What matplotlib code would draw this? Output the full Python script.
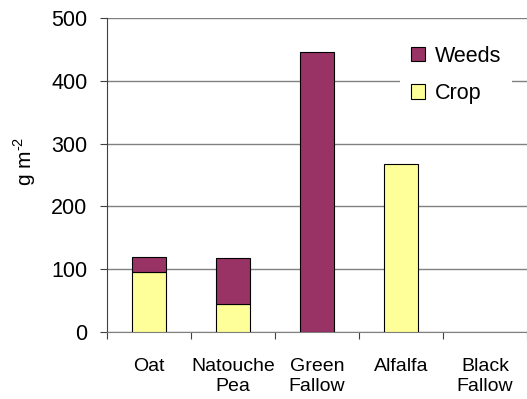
import numpy as np
import matplotlib
matplotlib.use('Agg')
import matplotlib.pyplot as plt

plt.rcParams['font.family'] = ['Liberation Sans', 'DejaVu Sans']
plt.rcParams['mathtext.fontset'] = 'custom'
plt.rcParams['mathtext.rm'] = 'Liberation Sans'

categories = ['Oat', 'Natouche\nPea', 'Green\nFallow', 'Alfalfa', 'Black\nFallow']
crop = [95, 45, 0, 268, 0]
weeds = [25, 73, 446, 0, 0]

fig = plt.figure(figsize=(5.27, 3.99), dpi=100)
ax = fig.add_axes([107 / 527, 1 - 332 / 399, 420 / 527, 314 / 399])

x = np.arange(len(categories))
w = 0.41
# no outline for empty segments
crop_edges = ['black' if v > 0 else 'none' for v in crop]
weed_edges = ['black' if v > 0 else 'none' for v in weeds]
b1 = ax.bar(x, crop, w, color='#FFFF99', edgecolor=crop_edges, linewidth=0.8, label='Crop', zorder=3)
b2 = ax.bar(x, weeds, w, bottom=crop, color='#993366', edgecolor=weed_edges, linewidth=0.8, label='Weeds', zorder=3)

ax.set_xlim(-0.5, len(categories) - 0.5)
ax.set_ylim(0, 500)
ax.set_yticks(range(0, 501, 100))
ax.yaxis.grid(True, color='#808080', linewidth=1)
ax.set_axisbelow(True)
ax.tick_params(axis='y', labelsize=15.5, length=5, width=0.8, pad=9, color='#404040')

ax.set_xticks(np.arange(len(categories) + 1) - 0.5)
ax.set_xticklabels([])
ax.tick_params(axis='x', which='major', length=5, width=0.8, direction='out', color='#404040')
ax.set_xticks(x, minor=True)
ax.set_xticklabels(categories, minor=True, fontsize=14, va='top')
ax.tick_params(axis='x', which='minor', length=0, pad=19)

for s in ['top', 'right']:
    ax.spines[s].set_visible(False)
ax.spines['left'].set_color('#404040')
ax.spines['bottom'].set_color('#808080')

fig.text(25 / 527, 1 - 161 / 399, 'g m$^{\\mathregular{\u20102}}$', rotation=90,
         fontsize=15, ha='center', va='center')

handles = [b2[0], b1[0]]
for h in handles:
    h.set_edgecolor('black')
leg = ax.legend(handles, ['Weeds', 'Crop'], loc='upper left',
                bbox_to_anchor=(400 / 527, 1 - 35 / 399), bbox_transform=fig.transFigure,
                fontsize=15.5, frameon=True, facecolor='white', edgecolor='none',
                fancybox=False, framealpha=1, borderpad=0.5, borderaxespad=0,
                handlelength=0.65, handleheight=0.65, handletextpad=0.45, labelspacing=0.75)

fig.savefig('out.png', dpi=100)
